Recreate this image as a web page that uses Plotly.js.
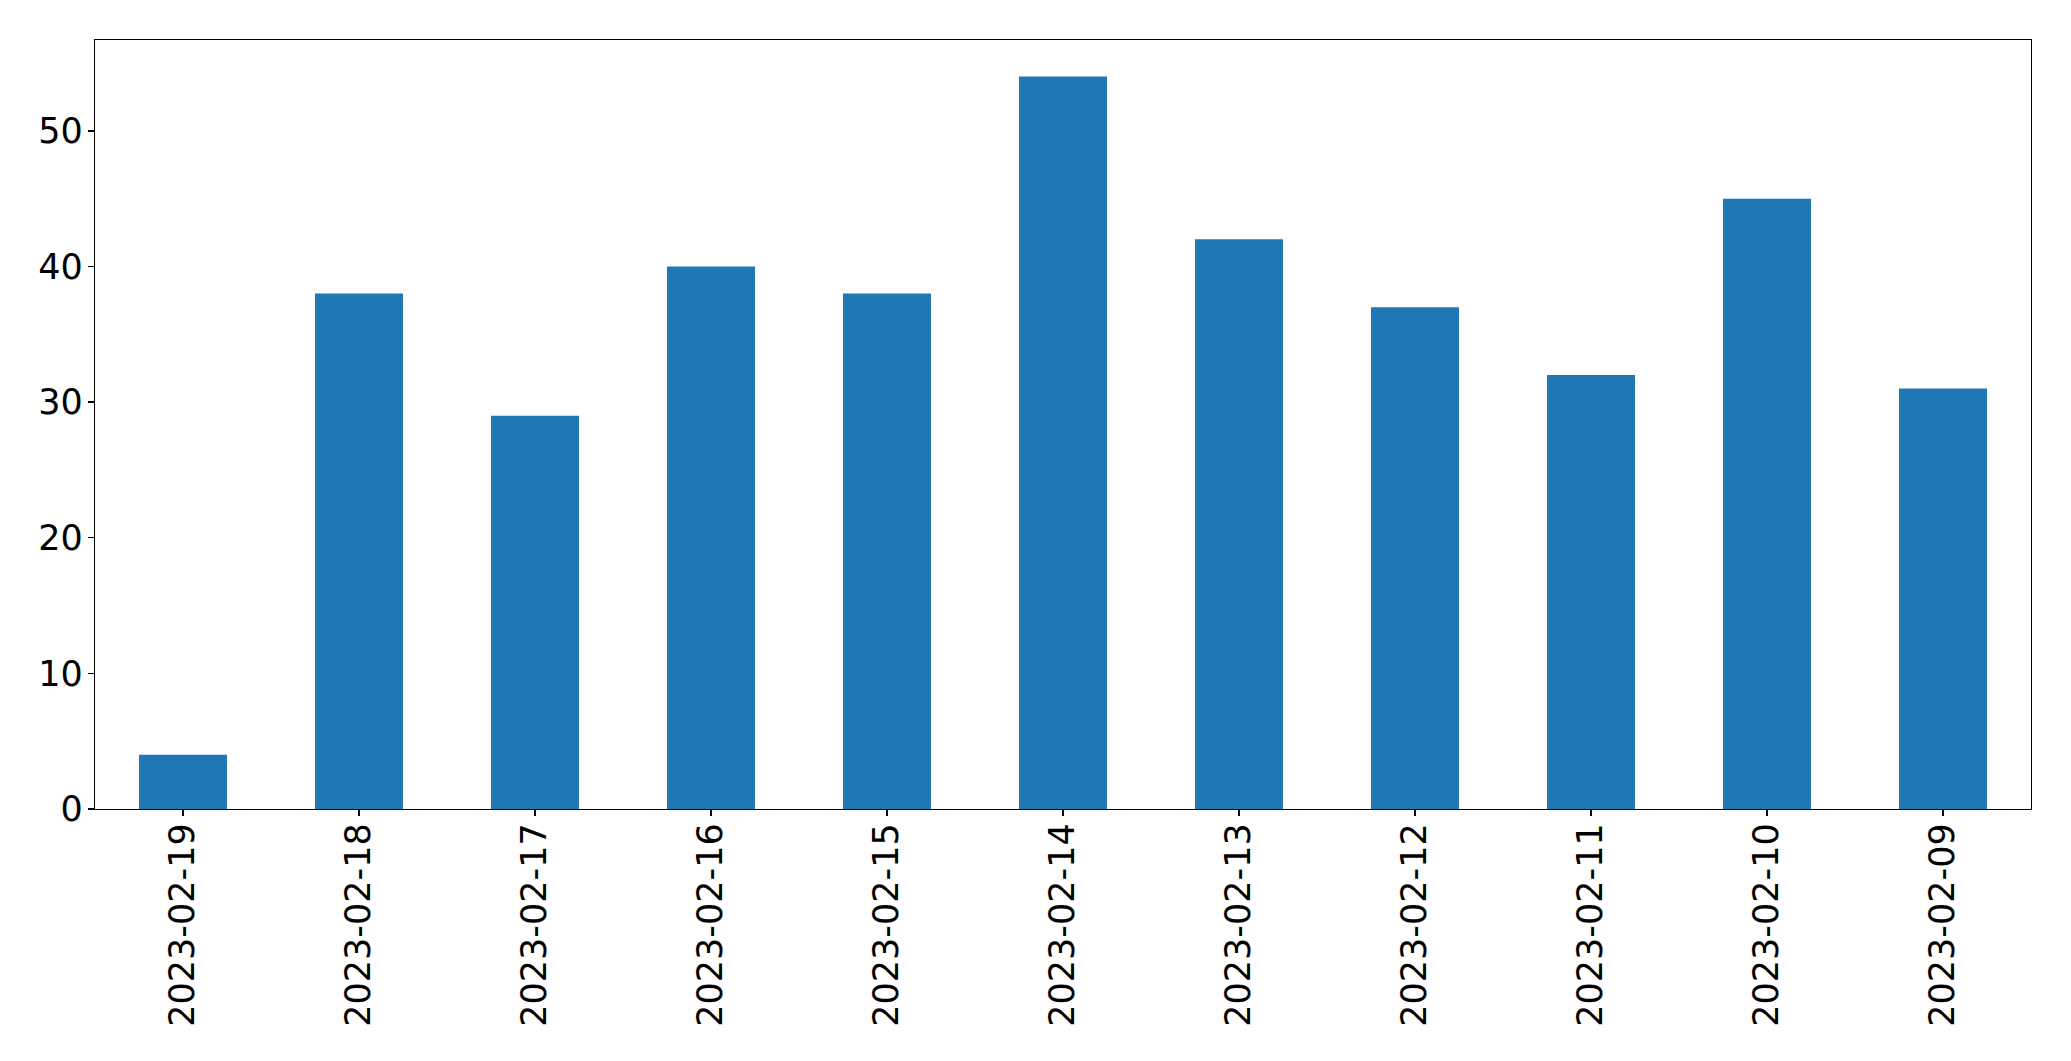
<!DOCTYPE html>
<html>
<head>
<meta charset="utf-8">
<script src="https://cdn.plot.ly/plotly-3.0.1.min.js"></script>
<style>
html,body{margin:0;padding:0;background:#fff;}
#chart{width:2071px;height:1061px;}
</style>
</head>
<body>
<div id="chart"></div>
<script>
const dates = ["2023-02-19","2023-02-18","2023-02-17","2023-02-16","2023-02-15","2023-02-14","2023-02-13","2023-02-12","2023-02-11","2023-02-10","2023-02-09"];
const counts = [4, 38, 29, 40, 38, 54, 42, 37, 32, 45, 31];
const yTicks = [0, 10, 20, 30, 40, 50];

const trace = {
  type: "bar",
  x: dates,
  y: counts,
  width: 0.5,
  marker: {color: "#1f77b4", line: {width: 0}},
  hoverinfo: "x+y"
};

const fontFam = "DejaVu Sans, sans-serif";
const layout = {
  width: 2071,
  height: 1061,
  margin: {l: 94.5, r: 39.5, t: 39.5, b: 252, pad: 0},
  paper_bgcolor: "#ffffff",
  plot_bgcolor: "#ffffff",
  showlegend: false,
  bargap: 0.5,
  xaxis: {
    type: "category",
    range: [-0.5, dates.length - 0.5],
    tickangle: -90,
    ticks: "outside",
    ticklen: 6,
    tickwidth: 1.3,
    tickcolor: "#000",
    showline: true,
    mirror: true,
    linecolor: "#000",
    linewidth: 1.3,
    showgrid: false,
    zeroline: false,
    tickfont: {family: fontFam, size: 35, color: "#000"},
    ticklabelstandoff: -7
  },
  yaxis: {
    range: [0, 56.7],
    tickvals: yTicks,
    ticktext: yTicks.map(String),
    ticks: "outside",
    ticklen: 6,
    tickwidth: 1.3,
    tickcolor: "#000",
    showline: true,
    mirror: true,
    linecolor: "#000",
    linewidth: 1.3,
    showgrid: false,
    zeroline: false,
    tickfont: {family: fontFam, size: 35, color: "#000"},
    ticklabelstandoff: -2
  }
};

Plotly.newPlot("chart", [trace], layout, {displayModeBar: false, staticPlot: true});
</script>
</body>
</html>
